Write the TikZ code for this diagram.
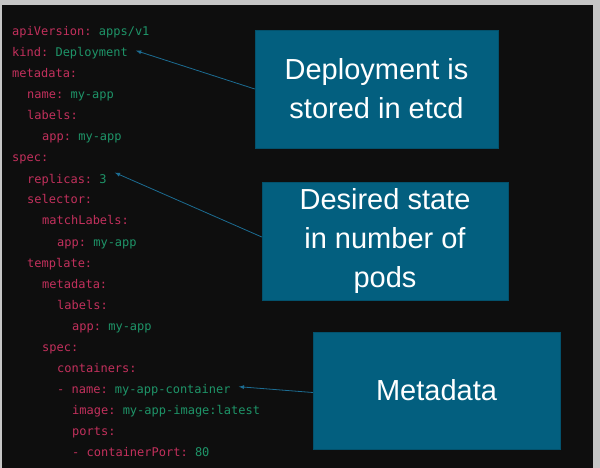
\documentclass[tikz,border=0pt]{standalone}
\usepackage{fontspec}
\setmainfont{Liberation Sans}
\setmonofont{DejaVu Sans Mono}
\definecolor{bgdark}{HTML}{0E0E0E}
\definecolor{keyred}{HTML}{C2305C}
\definecolor{valgreen}{HTML}{1E9468}
\definecolor{boxteal}{HTML}{035F7F}
\definecolor{arrowblue}{HTML}{1C6C92}
\tikzset{
  codeline/.style={anchor=base west, inner sep=0pt, font=\fontsize{12}{14}\ttfamily},
  notebox/.style={fill=boxteal, draw=boxteal!85!black, text=white, align=center,
    font=\fontsize{29}{39}\selectfont},
  pointer/.style={draw=arrowblue, line width=0.8pt, -latex}
}
\newcommand{\kv}[2]{\textcolor{keyred}{#1}\textcolor{valgreen}{#2}}
\begin{document}
\begin{tikzpicture}[x=1pt, y=-1pt]
\useasboundingbox (0,0) rectangle (600,468);
\fill[gray!45] (0,0) rectangle (600,468);
\fill[bgdark] (2,5) rectangle (593,468);
%Code
\node[codeline] (l1) at (12,36) {\kv{apiVersion: }{apps/v1}};
\node[codeline] (l2) at (12,57) {\kv{kind: }{Deployment}};
\node[codeline] (l3) at (12,78) {\kv{metadata:}{}};
\node[codeline] (l4) at (27,99) {\kv{name: }{my-app}};
\node[codeline] (l5) at (27,120) {\kv{labels:}{}};
\node[codeline] (l6) at (42,141) {\kv{app: }{my-app}};
\node[codeline] (l7) at (12,162) {\kv{spec:}{}};
\node[codeline] (l8) at (27,183) {\kv{replicas: }{3}};
\node[codeline] (l9) at (27,204) {\kv{selector:}{}};
\node[codeline] (l10) at (42,225) {\kv{matchLabels:}{}};
\node[codeline] (l11) at (57,246) {\kv{app: }{my-app}};
\node[codeline] (l12) at (27,267) {\kv{template:}{}};
\node[codeline] (l13) at (42,288) {\kv{metadata:}{}};
\node[codeline] (l14) at (57,309) {\kv{labels:}{}};
\node[codeline] (l15) at (72,330) {\kv{app: }{my-app}};
\node[codeline] (l16) at (42,351) {\kv{spec:}{}};
\node[codeline] (l17) at (57,372) {\kv{containers:}{}};
\node[codeline] (l18) at (57,393) {\kv{- name: }{my-app-container}};
\node[codeline] (l19) at (72,414) {\kv{image: }{my-app-image:latest}};
\node[codeline] (l20) at (72,435) {\kv{ports:}{}};
\node[codeline] (l21) at (72,456) {\kv{- containerPort: }{80}};
%Boxes
\node[notebox, minimum width=243pt, minimum height=118pt] (etcd) at (376.5,89) {Deployment is\\stored in etcd};
\node[notebox, minimum width=246pt, minimum height=118pt] (pods) at (385,241) {Desired state\\in number of\\pods};
\node[notebox, minimum width=247pt, minimum height=117pt] (meta) at (436.5,390.5) {Metadata};
%Arrows
\draw[pointer] (etcd.west) -- ([xshift=8pt,yshift=3pt]l2.east);
\draw[pointer] ([yshift=4pt]pods.west) -- ([xshift=8pt,yshift=7pt]l8.east);
\draw[pointer] ([yshift=-2pt]meta.west) -- ([xshift=8pt,yshift=3pt]l18.east);
\end{tikzpicture}
\end{document}
